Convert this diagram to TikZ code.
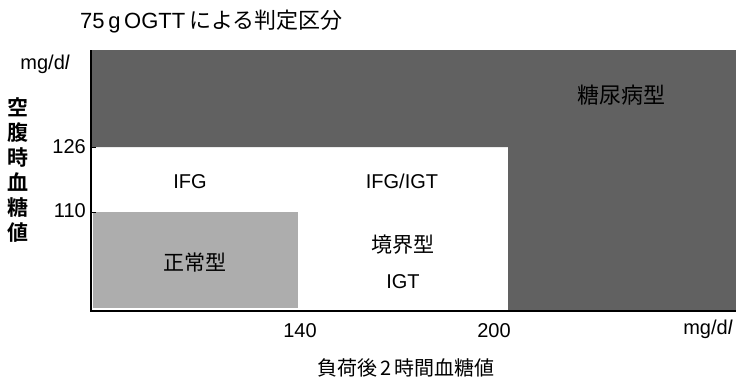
\documentclass[tikz,border=0pt]{standalone}
\usepackage{fontspec}
\setmainfont{Liberation Sans}
\newfontfamily\jp{Noto Sans CJK JP}[BoldFont=Noto Sans CJK JP Bold]
\definecolor{diabetes}{gray}{0.38}
\definecolor{normalc}{gray}{0.68}
\begin{document}
\begin{tikzpicture}[x=1pt,y=-1pt,
  lbl/.style={font=\fontsize{20}{24}\selectfont, inner sep=0pt},
  jlbl/.style={font=\jp\fontsize{21}{24}\selectfont, inner sep=0pt},
  axisline/.style={line width=1.6pt, black},
  tick/.style={line width=1pt}]
\useasboundingbox (0,0) rectangle (736,386);
\fill[white] (0,0) rectangle (736,386);
% regions
\fill[diabetes] (91,50) -- (736,50) -- (736,311) -- (508,311) -- (508,147) -- (91,147) -- cycle;
\fill[normalc] (93,212) rectangle (298,308);
% axes
\coordinate (o) at (91,311);
\coordinate (ytop) at (91,50);
\coordinate (xend) at (736,311);
\draw[axisline] (ytop) -- (o) -- (xend);
\draw[tick] (91,147) -- (96,147);
\draw[tick] (91,212) -- (96,212);
% title
\node[lbl, anchor=west, font=\fontsize{22}{24}\selectfont] (title) at (80,22) {75\,g\,OGTT\,\jp によ{}る判定区分};
% y labels
\node[lbl, anchor=east] (yunit) at (70,64) {mg/d\textit{l}};
\node[lbl, anchor=east] (y126) at (86,147) {126};
\node[lbl, anchor=east] (y110) at (86,211) {110};
\node[align=center, inner sep=0pt, font=\jp\bfseries\fontsize{21}{25}\selectfont] (ytitle) at (18,170) {空\\腹\\時\\血\\糖\\値};
% x labels
\node[lbl] (x140) at (300,331) {140};
\node[lbl] (x200) at (494,331) {200};
\node[lbl] (xunit) at (708,329) {mg/d\textit{l}};
\node[jlbl, font=\jp\fontsize{20}{24}\selectfont] (xtitle) at (406,368) {負荷後\,2\,時間血糖値};
% region labels
\node[lbl] (ifg) at (190,182) {IFG};
\node[lbl] (ifgigt) at (402,181) {IFG/IGT};
\node[jlbl] (border) at (403,245) {境界型};
\node[lbl] (igt) at (403,282) {IGT};
\node[jlbl] (normal) at (195,263) {正常型};
\node[jlbl, font=\jp\fontsize{22}{24}\selectfont] (diab) at (621,95) {糖尿病型};
\end{tikzpicture}
\end{document}
